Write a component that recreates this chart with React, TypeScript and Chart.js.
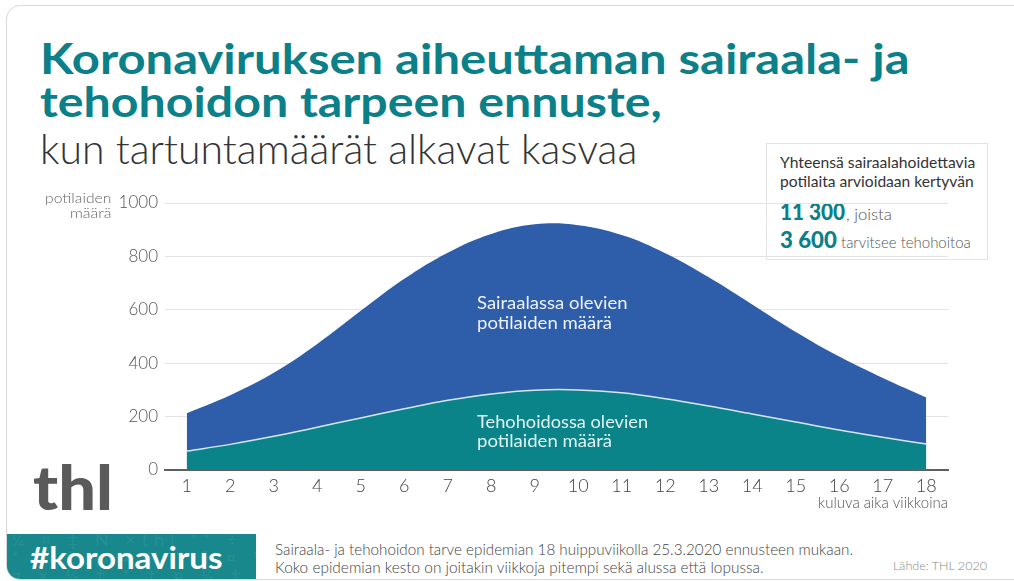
import React, { useEffect, useLayoutEffect, useRef, useState } from "react";
import { Chart, registerables } from "chart.js";

Chart.register(...registerables);

// ---------- data ----------
const weeks = [1, 2, 3, 4, 5, 6, 7, 8, 9, 10, 11, 12, 13, 14, 15, 16, 17, 18];
const hospitalPatients = [213, 280, 364, 472, 596, 716, 814, 884, 920, 917, 880, 812, 722, 620, 517, 425, 345, 272];
const icuPatients = [71, 96, 126, 160, 195, 229, 261, 285, 299, 300, 289, 267, 240, 210, 180, 150, 123, 97];
const yTicks = [0, 200, 400, 600, 800, 1000];
const xAxisTitle = "kuluva aika viikkoina";
const yAxisTitle = ["potilaiden", "määrä"];
const hospitalLabel = ["Sairaalassa olevien", "potilaiden määrä"];
const icuLabel = ["Tehohoidossa olevien", "potilaiden määrä"];

const FONT = "Lato, 'Open Sans', sans-serif";
const TEAL = "#0b8088";
const BLUE = "#2e5ea9";
const TEAL_FILL = "#0a8389";

type FitProps = {
  left: number;
  baseline: number;
  size: number;
  width: number;
  weight?: number;
  color?: string;
  children: React.ReactNode;
};

function FitText({ left, baseline, size, width, weight = 400, color = "#333", children }: FitProps) {
  const ref = useRef<HTMLSpanElement>(null);
  const [k, setK] = useState(1);
  useLayoutEffect(() => {
    if (ref.current) {
      const w = ref.current.offsetWidth;
      if (w > 0) setK(width / w);
    }
  }, [width, size]);
  return (
    <span
      ref={ref}
      style={{
        position: "absolute",
        left,
        top: baseline - 0.887 * size,
        fontSize: size,
        lineHeight: `${size}px`,
        fontFamily: FONT,
        fontWeight: weight,
        color,
        whiteSpace: "nowrap",
        transform: `scaleX(${k})`,
        transformOrigin: "left top",
      }}
    >
      {children}
    </span>
  );
}

function AreaChart() {
  const canvasRef = useRef<HTMLCanvasElement>(null);
  useEffect(() => {
    if (!canvasRef.current) return;
    const chart = new Chart(canvasRef.current, {
      type: "line",
      data: {
        datasets: [
          {
            label: "Tehohoidossa",
            data: weeks.map((w, i) => ({ x: w, y: icuPatients[i] })),
            fill: "origin",
            backgroundColor: TEAL_FILL,
            borderColor: "#d3e9f1",
            borderWidth: 1.5,
            tension: 0.4,
            pointRadius: 0,
            order: 0,
          },
          {
            label: "Sairaalassa",
            data: weeks.map((w, i) => ({ x: w, y: hospitalPatients[i] })),
            fill: "origin",
            backgroundColor: BLUE,
            borderColor: BLUE,
            borderWidth: 0,
            tension: 0.4,
            pointRadius: 0,
            order: 1,
          },
        ],
      },
      options: {
        animation: false,
        responsive: false,
        layout: { padding: { left: 0, right: 22, top: 23, bottom: 0 } },
        plugins: {
          legend: { display: false },
          tooltip: { enabled: false },
        },
        scales: {
          x: {
            type: "linear",
            min: 0.5,
            max: 18.5,
            afterBuildTicks: (s: any) => {
              s.ticks = weeks.map((v) => ({ value: v }));
            },
            afterFit: (s: any) => {
              s.height = 50;
            },
            grid: { display: false, drawTicks: false },
            border: { display: true, color: "#5f5f5f", width: 2 },
            ticks: {
              padding: 5,
              color: "#444",
              autoSkip: false,
              maxRotation: 0,
              font: { family: FONT, size: 18, weight: "300" as any },
              callback: (v: any) => String(v),
            },
            title: {
              display: true,
              text: xAxisTitle,
              align: "end",
              color: "#555",
              font: { family: FONT, size: 15, weight: "300" as any },
              padding: { top: 0, bottom: 8 },
            },
          },
          y: {
            min: 0,
            max: 1000,
            afterBuildTicks: (s: any) => {
              s.ticks = yTicks.map((v) => ({ value: v }));
            },
            afterFit: (s: any) => {
              s.width = 65;
            },
            grid: { color: "#e3e3e3", lineWidth: 1, drawTicks: false },
            border: { display: false },
            ticks: {
              padding: 7,
              color: "#555",
              font: { family: FONT, size: 17, weight: "300" as any },
              callback: (v: any) => String(v),
            },
          },
        },
      },
    });
    return () => chart.destroy();
  }, []);
  return (
    <canvas
      ref={canvasRef}
      width={870}
      height={340}
      style={{ position: "absolute", left: 100, top: 180, width: 870, height: 340 }}
    />
  );
}

export default function App() {
  return (
    <div
      style={{
        position: "fixed",
        left: 0,
        top: 0,
        width: 1014,
        height: 581,
        overflow: "hidden",
        background: "#fff",
        fontFamily: FONT,
      }}
    >
      {/* card border */}
      <div
        style={{
          position: "absolute",
          left: 6,
          top: 5,
          width: 1100,
          height: 573,
          border: "1.5px solid #d9d9d9",
          borderRadius: 14,
        }}
      />

      {/* title */}
      <FitText left={40} baseline={74} size={42} width={870} weight={700} color={TEAL}>
        Koronaviruksen aiheuttaman sairaala- ja
      </FitText>
      <FitText left={40} baseline={117} size={42} width={622} weight={700} color={TEAL}>
        tehohoidon tarpeen ennuste,
      </FitText>
      <FitText left={40} baseline={164} size={42} width={597} weight={300} color="#333">
        kun tartuntamäärät alkavat kasvaa
      </FitText>

      {/* info box */}
      <div
        style={{
          position: "absolute",
          left: 766,
          top: 143,
          width: 222,
          height: 117,
          border: "1px solid #e3e3e3",
          background: "#fff",
          boxSizing: "border-box",
        }}
      />
      <FitText left={780} baseline={168} size={16} width={195} color="#333">
        Yhteensä sairaalahoidettavia
      </FitText>
      <FitText left={780} baseline={187} size={16} width={194} color="#333">
        potilaita arvioidaan kertyvän
      </FitText>
      <FitText left={780} baseline={220} size={23} width={65} weight={900} color={TEAL}>
        11 300
      </FitText>
      <FitText left={846} baseline={220} size={16} width={46} weight={300} color="#555">
        , joista
      </FitText>
      <FitText left={780} baseline={248} size={23} width={57} weight={900} color={TEAL}>
        3 600
      </FitText>
      <FitText left={841} baseline={248} size={16} width={130} weight={300} color="#555">
        tarvitsee tehohoitoa
      </FitText>

      {/* chart */}
      <AreaChart />

      {/* y-axis title */}
      <FitText left={45} baseline={203} size={14} width={66} weight={300} color="#666">
        {yAxisTitle[0]}
      </FitText>
      <FitText left={70} baseline={218} size={14} width={41} weight={300} color="#666">
        {yAxisTitle[1]}
      </FitText>

      {/* area labels */}
      <FitText left={477} baseline={309} size={18} width={150} color="#eef2fa">
        {hospitalLabel[0]}
      </FitText>
      <FitText left={477} baseline={329} size={18} width={135} color="#eef2fa">
        {hospitalLabel[1]}
      </FitText>
      <FitText left={477} baseline={428} size={18} width={171} color="#e2f3f3">
        {icuLabel[0]}
      </FitText>
      <FitText left={477} baseline={447} size={18} width={135} color="#e2f3f3">
        {icuLabel[1]}
      </FitText>

      {/* thl logo */}
      <FitText left={33} baseline={510} size={60} width={80} weight={900} color="#5a5a5a">
        thl
      </FitText>

      {/* hashtag box */}
      <div
        style={{
          position: "absolute",
          left: 7,
          top: 534,
          width: 249,
          height: 45,
          background: "#19888d",
          borderBottomLeftRadius: 13,
          overflow: "hidden",
        }}
      >
        <div
          style={{
            position: "absolute",
            left: 4,
            top: -4,
            fontSize: 18,
            lineHeight: "18px",
            color: "rgba(255,255,255,0.08)",
            fontFamily: FONT,
            whiteSpace: "nowrap",
            letterSpacing: 6,
          }}
        >
          ¼ ¤ ‡ N ×thl ⁵* ÷ ¼ ¶ ¤
          <br />
          * ¼ ‡ † ¤ ¼ * § ¤ ¼ ‡
          <br />¤ × ¼ ‡ * † ¤ ¼ ‡ *
        </div>
      </div>
      <FitText left={30} baseline={569} size={30} width={192} weight={700} color="#ffffff">
        #koronavirus
      </FitText>

      {/* footer */}
      <FitText left={275} baseline={555} size={15} width={578} weight={300} color="#444">
        Sairaala- ja tehohoidon tarve epidemian 18 huippuviikolla 25.3.2020 ennusteen mukaan.
      </FitText>
      <FitText left={275} baseline={573} size={15} width={489} weight={300} color="#444">
        Koko epidemian kesto on joitakin viikkoja pitempi sekä alussa että lopussa.
      </FitText>
      <FitText left={893} baseline={571} size={12} width={94} weight={300} color="#888">
        Lähde: THL 2020
      </FitText>
    </div>
  );
}
